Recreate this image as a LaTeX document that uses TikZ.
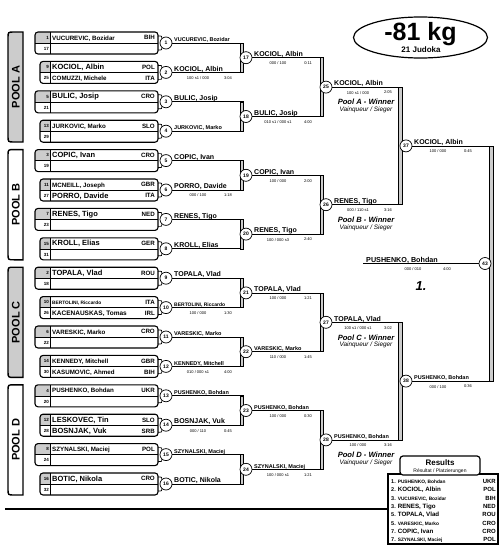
\documentclass[tikz,border=0pt]{standalone}
\usepackage{fontspec}
\setmainfont{Liberation Sans}
\usetikzlibrary{shapes.geometric}
\newcommand\fz[1]{\fontsize{#1}{#1}\selectfont}
% box name fonts
\newcommand\fBL{\fz{7.5}\bfseries}
\newcommand\fBM{\fz{6.5}\bfseries}
\newcommand\fBS{\fz{6.2}\bfseries}
\newcommand\fBT{\fz{4.8}\bfseries}
% bracket line fonts
\newcommand\fLL{\fz{7}\bfseries}
\newcommand\fLS{\fz{5.5}\bfseries}
\newcommand\fLT{\fz{5}\bfseries}
\tikzset{
  boxline/.style={line width=1.1pt, rounded corners=3pt},
  circ/.style={circle, draw, fill=white, line width=0.7pt, minimum size=12pt, inner sep=0pt, font=\fz{5}\bfseries},
  hl/.style={line width=0.8pt},
  vbar/.style={draw=black, fill=gray!40, line width=0.5pt},
  sc/.style={font=\fz{4}, inner sep=0pt},
  conn/.style={line width=0.7pt},
  seedn/.style={anchor=base east, inner sep=0pt, font=\fz{4.5}\bfseries},
  cty/.style={anchor=base east, inner sep=0pt, font=\fz{6.2}\bfseries},
  pname/.style={anchor=base west, inner sep=0pt},
  winA/.style={font=\fz{7.6}\bfseries\itshape, inner sep=0pt},
  winB/.style={font=\fz{6.4}\itshape, inner sep=0pt},
  resname/.style={anchor=base west, inner sep=0pt},
  resctry/.style={anchor=base east, inner sep=0pt, font=\fz{6}\bfseries},
}
% first-round entry box
\newcommand\pbox[9]{%
 \pgfmathsetmacro\yy{43+(#1-1)*29.4}%
 \pgfmathsetmacro\xo{35+5*(1-mod(#1,2))}%
 \begin{scope}
  \clip[rounded corners=3pt] (\xo,\yy-11) rectangle (158,\yy+11);
  \fill[gray!40] (\xo,\yy-11) rectangle (50,\yy);
 \end{scope}
 \draw[line width=0.4pt] (\xo,\yy) -- (158,\yy) (50,\yy-11) -- (50,\yy+11);
 \draw[boxline] (\xo,\yy-11) rectangle (158,\yy+11);
 \node[seedn] (sa#1) at (49,\yy-3.8) {#2};
 \node[pname, font=#3] (na#1) at (52,\yy-3) {#4};
 \node[cty] (ca#1) at (155,\yy-3.2) {#5};
 \node[seedn] (sb#1) at (49,\yy+7.2) {#6};
 \node[pname, font=#7] (nb#1) at (52,\yy+8) {#8};
 \node[cty] (cb#1) at (155,\yy+7.8) {#9};
 \draw[conn] (158,\yy-7) .. controls (162,\yy-7) .. (162,\yy-4.5);
 \draw[conn] (158,\yy+7) .. controls (162,\yy+7) .. (162,\yy+4.5);
}
% match: number, circle x, y, line end x, font, name, score, time
\newcommand\match[8]{%
 \node[circ] (c#1) at (#2,#3) {#1};
 \draw[hl] (c#1.east) -- (#4,#3);
 \node[anchor=base west, inner sep=0pt, font=#5] (w#1) at (#2+8,#3-1.3) {#6};
 \node[sc] (s#1) at (#2+32,#3+5.5) {#7};
 \node[sc] (t#1) at (#2+62,#3+5.5) {#8};
}
\newcommand\vb[3]{\filldraw[vbar] (#1-3.5,#2) rectangle (#1,#3);}
\newcommand\pooltab[4]{%
 \filldraw[line width=1.4pt, fill=#3] (23,#1) -- (14,#1) .. controls (8,#1) .. (8,#1+6) -- (8,#2-6) .. controls (8,#2) .. (14,#2) -- (23,#2) -- cycle;
 \node[rotate=90, font=\fz{11}\bfseries, inner sep=0pt] at (15.8,{(#1+#2)/2}) {#4};
}
\begin{document}
\begin{tikzpicture}[x=1pt,y=-1pt]
\useasboundingbox (0,0) rectangle (500,546);
\fill[white] (0,0) rectangle (500,546);

% title
\node[draw, ellipse, line width=1.2pt, minimum width=134pt, minimum height=41pt] (title) at (420.5,37.5) {};
\node[anchor=base, inner sep=0pt, font=\fz{25}\bfseries] (kg) at (420.5,40.5) {-81 kg};
\node[anchor=base, inner sep=0pt, font=\fz{8}\bfseries] (jud) at (421,52) {21 Judoka};

% pool tabs
\pooltab{32}{142}{gray!40}{POOL A}
\pooltab{149.6}{259.8}{white}{POOL B}
\pooltab{267.2}{377.4}{gray!40}{POOL C}
\pooltab{384.8}{495}{white}{POOL D}

% entry boxes
\pbox{1}{1}{\fBS}{VUCUREVIC, Bozidar}{BIH}{17}{\fBS}{}{}
\pbox{2}{9}{\fBL}{KOCIOL, Albin}{POL}{25}{\fBS}{COMUZZI, Michele}{ITA}
\pbox{3}{5}{\fBL}{BULIC, Josip}{CRO}{21}{\fBS}{}{}
\pbox{4}{13}{\fBS}{JURKOVIC, Marko}{SLO}{29}{\fBS}{}{}
\pbox{5}{3}{\fBL}{COPIC, Ivan}{CRO}{19}{\fBS}{}{}
\pbox{6}{11}{\fBS}{MCNEILL, Joseph}{GBR}{27}{\fBL}{PORRO, Davide}{ITA}
\pbox{7}{7}{\fBL}{RENES, Tigo}{NED}{23}{\fBS}{}{}
\pbox{8}{15}{\fBL}{KROLL, Elias}{GER}{31}{\fBS}{}{}
\pbox{9}{2}{\fBL}{TOPALA, Vlad}{ROU}{18}{\fBS}{}{}
\pbox{10}{10}{\fBT}{BERTOLINI, Riccardo}{ITA}{26}{\fBM}{KACENAUSKAS, Tomas}{IRL}
\pbox{11}{6}{\fBS}{VARESKIC, Marko}{CRO}{22}{\fBS}{}{}
\pbox{12}{14}{\fBS}{KENNEDY, Mitchell}{GBR}{30}{\fBS}{KASUMOVIC, Ahmed}{BIH}
\pbox{13}{4}{\fBS}{PUSHENKO, Bohdan}{UKR}{20}{\fBS}{}{}
\pbox{14}{12}{\fBL}{LESKOVEC, Tin}{SLO}{28}{\fBL}{BOSNJAK, Vuk}{SRB}
\pbox{15}{8}{\fBS}{SZYNALSKI, Maciej}{POL}{24}{\fBS}{}{}
\pbox{16}{16}{\fBL}{BOTIC, Nikola}{CRO}{32}{\fBS}{}{}

% round 1
\match{1}{166}{43}{243.5}{\fLS}{VUCUREVIC, Bozidar}{}{}
\match{2}{166}{72.4}{243.5}{\fLL}{KOCIOL, Albin}{100 s1 / 000}{3:04}
\match{3}{166}{101.8}{243.5}{\fLL}{BULIC, Josip}{}{}
\match{4}{166}{131.2}{243.5}{\fLS}{JURKOVIC, Marko}{}{}
\match{5}{166}{160.6}{243.5}{\fLL}{COPIC, Ivan}{}{}
\match{6}{166}{190}{243.5}{\fLL}{PORRO, Davide}{000 / 100}{1:18}
\match{7}{166}{219.4}{243.5}{\fLL}{RENES, Tigo}{}{}
\match{8}{166}{248.8}{243.5}{\fLL}{KROLL, Elias}{}{}
\match{9}{166}{278.2}{243.5}{\fLL}{TOPALA, Vlad}{}{}
\match{10}{166}{307.6}{243.5}{\fLT}{BERTOLINI, Riccardo}{100 / 000}{1:30}
\match{11}{166}{337}{243.5}{\fLS}{VARESKIC, Marko}{}{}
\match{12}{166}{366.4}{243.5}{\fLS}{KENNEDY, Mitchell}{010 / 000 s1}{4:00}
\match{13}{166}{395.8}{243.5}{\fLS}{PUSHENKO, Bohdan}{}{}
\match{14}{166}{425.2}{243.5}{\fLL}{BOSNJAK, Vuk}{000 / 110}{0:45}
\match{15}{166}{454.6}{243.5}{\fLS}{SZYNALSKI, Maciej}{}{}
\match{16}{166}{484}{243.5}{\fLL}{BOTIC, Nikola}{}{}

\vb{243.5}{43}{72.4}
\vb{243.5}{101.8}{131.2}
\vb{243.5}{160.6}{190}
\vb{243.5}{219.4}{248.8}
\vb{243.5}{278.2}{307.6}
\vb{243.5}{337}{366.4}
\vb{243.5}{395.8}{425.2}
\vb{243.5}{454.6}{484}

% round 2
\match{17}{246}{57.7}{323.5}{\fLL}{KOCIOL, Albin}{000 / 100}{0:11}
\match{18}{246}{116.5}{323.5}{\fLL}{BULIC, Josip}{010 s1 / 000 s1}{4:00}
\match{19}{246}{175.3}{323.5}{\fLL}{COPIC, Ivan}{100 / 000}{2:00}
\match{20}{246}{234.1}{323.5}{\fLL}{RENES, Tigo}{100 / 000 s3}{2:40}
\match{21}{246}{292.9}{323.5}{\fLL}{TOPALA, Vlad}{100 / 000}{1:21}
\match{22}{246}{351.7}{323.5}{\fLS}{VARESKIC, Marko}{110 / 000}{1:45}
\match{23}{246}{410.5}{323.5}{\fLS}{PUSHENKO, Bohdan}{100 / 000}{0:30}
\match{24}{246}{469.3}{323.5}{\fLS}{SZYNALSKI, Maciej}{100 / 000 s1}{1:21}

\vb{323.5}{57.7}{116.5}
\vb{323.5}{175.3}{234.1}
\vb{323.5}{292.9}{351.7}
\vb{323.5}{410.5}{469.3}

% round 3 (pool finals)
\match{25}{326}{87.1}{402}{\fLL}{KOCIOL, Albin}{100 s1 / 000}{2:05}
\match{26}{326}{204.7}{402}{\fLL}{RENES, Tigo}{000 / 110 s1}{3:16}
\match{27}{326}{322.3}{402}{\fLL}{TOPALA, Vlad}{100 s1 / 000 s1}{3:02}
\match{28}{326}{439.9}{402}{\fLS}{PUSHENKO, Bohdan}{100 / 000}{3:16}

\node[winA] (pa) at (366,102.1) {Pool A - Winner};
\node[winB] (pav) at (366,110.1) {Vainqueur / Sieger};
\node[winA] (pb) at (366,219.7) {Pool B - Winner};
\node[winB] (pbv) at (366,227.7) {Vainqueur / Sieger};
\node[winA] (pc) at (366,337.3) {Pool C - Winner};
\node[winB] (pcv) at (366,345.3) {Vainqueur / Sieger};
\node[winA] (pd) at (366,454.9) {Pool D - Winner};
\node[winB] (pdv) at (366,462.9) {Vainqueur / Sieger};

\vb{402}{87.1}{204.7}
\vb{402}{322.3}{439.9}

% round 4
\match{37}{406}{145.9}{493}{\fLL}{KOCIOL, Albin}{100 / 000}{0:45}
\match{38}{406}{381.1}{493}{\fLS}{PUSHENKO, Bohdan}{000 / 100}{0:36}

\vb{493}{145.9}{381.1}

% final
\node[circ] (c43) at (485,263.5) {43};
\coordinate (fin) at (363,263.5);
\draw[hl] (c43.west) -- (fin);
\node[anchor=base west, inner sep=0pt, font=\fz{7.2}\bfseries] (w43) at (366,262.2) {PUSHENKO, Bohdan};
\node[sc] (s43) at (413,269.5) {000 / 010};
\node[sc] (t43) at (447,269.5) {4:00};
\node[inner sep=0pt, font=\fz{13}\bfseries\itshape] (first) at (421,286) {1.};

% bottom rule
\draw[line width=1.3pt] (5,509) -- (388,509);

% results
\draw[line width=1.2pt] (388,474) rectangle (498,544);
\node[draw, fill=white, line width=1.2pt, rounded corners=3pt, minimum width=80pt, minimum height=19pt, inner sep=0pt] (reshead) at (440,465.5) {};
\node[anchor=base, inner sep=0pt, font=\fz{8}\bfseries] (rest) at (440,465.3) {Results};
\node[anchor=base, inner sep=0pt, font=\fz{5}] (ress) at (440,472.3) {Résultat / Platzierungen};
\node[resname] (r1) at (391,483.5) {\fz{5.5}\bfseries 1. {\fz{4.8}PUSHENKO, Bohdan}};
\node[resctry] (rc1) at (496,483.5) {UKR};
\node[resname] (r2) at (391,491.8) {\fz{5.5}\bfseries 2. {\fz{6.2}KOCIOL, Albin}};
\node[resctry] (rc2) at (496,491.8) {POL};
\node[resname] (r3) at (391,500.1) {\fz{5.5}\bfseries 3. {\fz{4.8}VUCUREVIC, Bozidar}};
\node[resctry] (rc3) at (496,500.1) {BIH};
\node[resname] (r4) at (391,508.4) {\fz{5.5}\bfseries 3. {\fz{6.2}RENES, Tigo}};
\node[resctry] (rc4) at (496,508.4) {NED};
\node[resname] (r5) at (391,516.7) {\fz{5.5}\bfseries 5. {\fz{6.2}TOPALA, Vlad}};
\node[resctry] (rc5) at (496,516.7) {ROU};
\node[resname] (r6) at (391,525) {\fz{5.5}\bfseries 5. {\fz{4.8}VARESKIC, Marko}};
\node[resctry] (rc6) at (496,525) {CRO};
\node[resname] (r7) at (391,533.3) {\fz{5.5}\bfseries 7. {\fz{6.2}COPIC, Ivan}};
\node[resctry] (rc7) at (496,533.3) {CRO};
\node[resname] (r8) at (391,541.6) {\fz{5.5}\bfseries 7. {\fz{4.8}SZYNALSKI, Maciej}};
\node[resctry] (rc8) at (496,541.6) {POL};
\end{tikzpicture}
\end{document}
